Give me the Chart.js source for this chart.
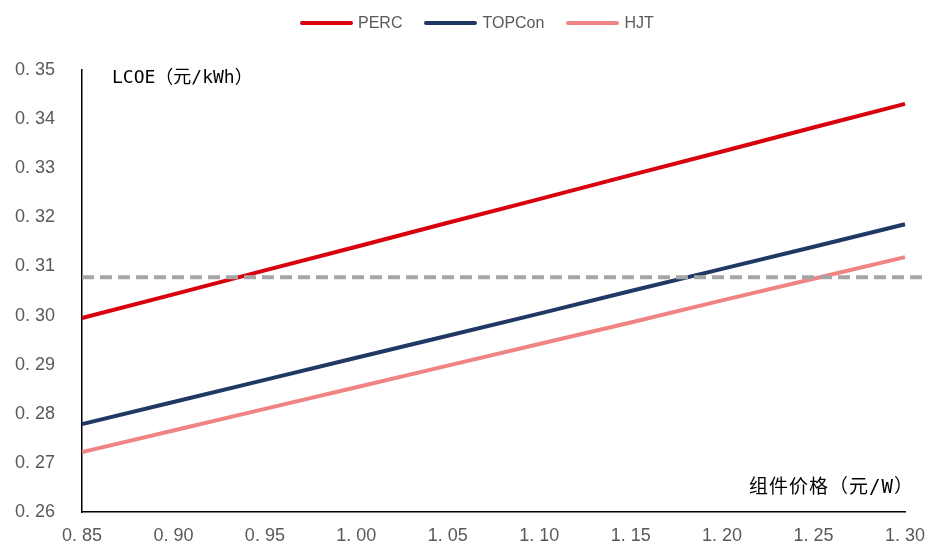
<!DOCTYPE html>
<html>
<head>
<meta charset="utf-8">
<script src="https://cdn.jsdelivr.net/npm/chart.js@4/dist/chart.umd.min.js"></script>
<style>
  html, body { margin: 0; padding: 0; background: #fff; }
  #wrap { width: 925px; height: 545px; position: relative; }
  #legend {
    position: absolute; left: 300px; top: 13px; height: 20px;
    display: flex; align-items: center;
    font: 16px "Liberation Sans", Arial, sans-serif; color: #595959;
  }
  .item { display: flex; align-items: center; margin-right: 22px; }
  .swatch { width: 53px; height: 4px; border-radius: 2px; margin-right: 5px; }
</style>
</head>
<body>
<div id="wrap">
  <canvas id="chart"></canvas>
  <div id="legend"></div>
</div>
<script>
"use strict";

// ── Data ───────────────────────────────────────────────────────────── //
const priceLabels = ["0.85", "0.90", "0.95", "1.00", "1.05", "1.10", "1.15", "1.20", "1.25", "1.30"];
const perc   = [0.2995, 0.3043, 0.3092, 0.3140, 0.3189, 0.3237, 0.3286, 0.3334, 0.3383, 0.3431];
const topcon = [0.2779, 0.2824, 0.2869, 0.2914, 0.2959, 0.3004, 0.3050, 0.3095, 0.3140, 0.3186];
const hjt    = [0.2722, 0.2766, 0.2810, 0.2854, 0.2898, 0.2942, 0.2986, 0.3031, 0.3075, 0.3119];
const refLevel = 0.3078;          // grey dashed reference line
const yTicks = [0.26, 0.27, 0.28, 0.29, 0.30, 0.31, 0.32, 0.33, 0.34, 0.35];

const TICK_FONT = { family: "'Liberation Sans', Arial, sans-serif", size: 18 };
const GREY_TXT  = "#595959";
const NOTE_FONT = "'DejaVu Sans Mono', 'Noto Sans CJK SC', monospace";

const series = [
  { label: "PERC",   data: perc,   color: "#d9000d" },
  { label: "TOPCon", data: topcon, color: "#1f3864" },
  { label: "HJT",    data: hjt,    color: "#f08484" },
];

// ── Legend (HTML) ──────────────────────────────────────────────────── //
document.getElementById("legend").innerHTML = series.map(s =>
  `<div class="item"><span class="swatch" style="background:${s.color}"></span>${s.label}</div>`
).join("");

// ── Plugins ────────────────────────────────────────────────────────── //
const overlay = {
  id: "overlay",
  afterDatasetsDraw(chart) {
    const { ctx, chartArea, scales } = chart;
    const y = scales.y.getPixelForValue(refLevel);
    ctx.save();
    ctx.strokeStyle = "#a6a6a6";
    ctx.lineWidth = 4;
    ctx.setLineDash([12, 6]);
    ctx.beginPath();
    ctx.moveTo(chartArea.left, y);
    ctx.lineTo(chart.width, y);
    ctx.stroke();
    ctx.restore();
  },
  afterDraw(chart) {
    const { ctx, chartArea } = chart;
    ctx.save();
    ctx.fillStyle = "#000";
    ctx.textBaseline = "middle";
    ctx.font = `18px ${NOTE_FONT}`;
    ctx.textAlign = "left";
    ctx.fillText("LCOE（元/kWh）", chartArea.left + 30, chartArea.top + 8);
    ctx.font = `19px ${NOTE_FONT}`;
    ctx.letterSpacing = "1px";
    ctx.textAlign = "right";
    ctx.fillText("组件价格（元/W）", chartArea.right + 9, chartArea.bottom - 24);
    ctx.restore();
  }
};

// ── Chart ──────────────────────────────────────────────────────────── //
new Chart(document.getElementById("chart"), {
  type: "line",
  data: {
    labels: priceLabels,
    datasets: series.map(s => ({
      label: s.label,
      data: s.data,
      borderColor: s.color,
      backgroundColor: s.color,
      borderWidth: 4,
      pointRadius: 0,
      tension: 0,
      fill: false,
    })),
  },
  options: {
    responsive: true,
    maintainAspectRatio: false,
    animation: false,
    layout: { padding: { top: 70, right: 20, left: 0, bottom: 0 } },
    plugins: {
      legend: { display: false },
      tooltip: { enabled: false },
    },
    scales: {
      x: {
        type: "category",
        offset: false,
        afterFit: s => { s.height = 33; s.paddingRight = 0; s.paddingLeft = 0; },
        grid: { display: false, drawTicks: true, tickLength: 7, tickColor: "#000" },
        border: { color: "#000", width: 1.5 },
        ticks: {
          color: GREY_TXT, font: TICK_FONT, padding: 6, maxRotation: 0,
          callback: (v, i) => priceLabels[i].replace(".", ". "),
        },
      },
      y: {
        min: 0.26, max: 0.35,
        afterBuildTicks: s => { s.ticks = yTicks.map(v => ({ value: v })); },
        afterFit: s => { s.width = 82; },
        grid: { display: false, drawTicks: true, tickLength: 7, tickColor: "#000" },
        border: { color: "#000", width: 1.5 },
        ticks: {
          color: GREY_TXT, font: TICK_FONT, padding: 20,
          callback: v => v.toFixed(2).replace(".", ". "),
        },
      },
    },
  },
  plugins: [overlay],
});
</script>
</body>
</html>
